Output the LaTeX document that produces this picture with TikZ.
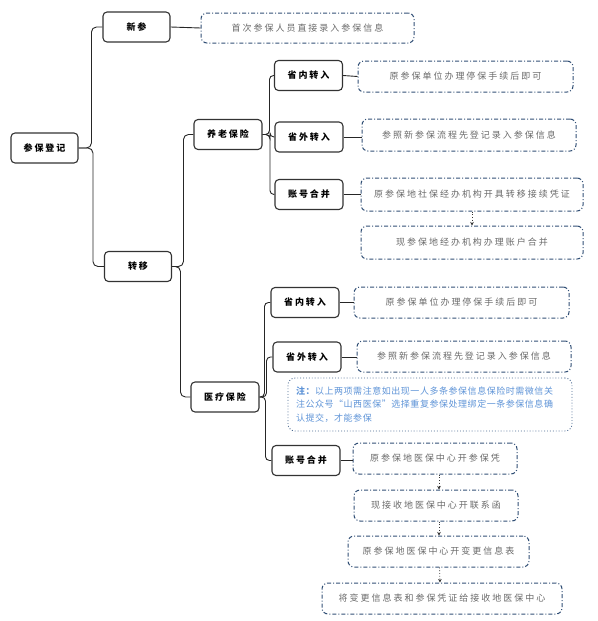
\documentclass[tikz,border=0pt]{standalone}
\usepackage{fontspec}
\usetikzlibrary{arrows.meta}
\newfontfamily\cjk{Noto Sans CJK SC}[LetterSpace=22]
\newfontfamily\cjknote{Noto Sans CJK SC}[LetterSpace=6]
\definecolor{ddblue}{RGB}{50,80,118}
\definecolor{notebd}{RGB}{75,105,145}
\definecolor{notetx}{RGB}{95,148,215}
\definecolor{ddtext}{RGB}{105,105,105}
\tikzset{
  solidbox/.style={draw=black!80, line width=1.1pt, rounded corners=4pt,
    minimum width=67pt, minimum height=30pt, inner sep=0pt,
    font=\cjk\bfseries\fontsize{9}{11}\selectfont},
  ddbox/.style={draw=ddblue, line width=1pt,
    dash pattern=on 4pt off 2pt on 1pt off 2pt, rounded corners=6pt,
    minimum height=31pt, inner sep=0pt, text=ddtext,
    font=\cjk\fontsize{9}{11}\selectfont},
  notebox/.style={draw=notebd, line width=0.9pt, dotted, rounded corners=7pt,
    inner sep=0pt, text=notetx, align=left, text width=268pt,
    font=\cjknote\fontsize{9}{13.5}\selectfont},
  conn/.style={line width=0.9pt, draw=black!85, rounded corners=5pt},
  link/.style={line width=0.9pt, draw=black!85},
  arr/.style={line width=0.8pt, draw=black!80, dotted,
    -{Stealth[length=3.5pt,width=3.5pt]}}
}
\begin{document}
\begin{tikzpicture}[x=1pt,y=-1pt]
\useasboundingbox (0,0) rectangle (597,621);
% level 1 and 2
\node[solidbox] (root) at (44.5,148) {参保登记};
\node[solidbox] (xin) at (136.5,27) {新参};
\node[solidbox] (zy) at (138,266.5) {转移};
\node[ddbox, minimum width=213pt, minimum height=30pt] (xint) at (307.5,28) {首次参保人员直接录入参保信息};
% pension
\node[solidbox, minimum width=68pt] (yl) at (228,134.5) {养老保险};
\node[solidbox, minimum width=68pt] (ylA) at (308.5,75.5) {省内转入};
\node[solidbox, minimum width=68pt] (ylB) at (309,137) {省外转入};
\node[solidbox, minimum width=68pt] (ylC) at (309,194.5) {账号合并};
\node[ddbox, minimum width=215pt] (ylAt) at (465.5,76.5) {原参保单位办理停保手续后即可};
\node[ddbox, minimum width=214pt, minimum height=32pt] (ylBt) at (469,135) {参照新参保流程先登记录入参保信息};
\node[ddbox, minimum width=222pt, minimum height=33pt] (ylCt) at (472,194.5) {原参保地社保经办机构开具转移接续凭证};
\node[ddbox, minimum width=222pt, minimum height=33pt] (ylDt) at (472,242.5) {现参保地经办机构办理账户合并};
% medical
\node[solidbox, minimum width=68pt] (yb) at (225,397) {医疗保险};
\node[solidbox, minimum width=68pt] (ybA) at (305,302.5) {省内转入};
\node[solidbox, minimum width=68pt] (ybB) at (307,357) {省外转入};
\node[solidbox, minimum width=68pt] (ybC) at (306,460.5) {账号合并};
\node[ddbox, minimum width=215pt] (ybAt) at (461.5,302.5) {原参保单位办理停保手续后即可};
\node[ddbox, minimum width=214pt] (ybBt) at (464,356.5) {参照新参保流程先登记录入参保信息};
\node[notebox, minimum width=284pt, minimum height=53pt] (note) at (430,404.5)
  {\textbf{注：}以上两项需注意如出现一人多条参保信息保险时需微信关\\注公众号“山西医保”选择重复参保处理绑定一条参保信息确\\认提交，才能参保};
\node[ddbox, minimum width=164pt] (ybCt) at (435,458.5) {原参保地医保中心开参保凭};
\node[ddbox, minimum width=164pt] (ybDt) at (436,505.5) {现接收地医保中心开联系函};
\node[ddbox, minimum width=181pt] (ybEt) at (438.5,551.5) {原参保地医保中心开变更信息表};
\node[ddbox, minimum width=240pt] (ybFt) at (442,598.5) {将变更信息表和参保凭证给接收地医保中心};
% tree connectors
\foreach \c in {xin,zy} \draw[conn] (root.east) -| ([xshift=-11pt]\c.west) -- (\c.west);
\foreach \c in {yl,yb} \draw[conn] (zy.east) -| ([xshift=-10pt]\c.west) -- (\c.west);
\foreach \c in {ylA,ylB,ylC} \draw[conn, rounded corners=4pt] (yl.east) -| ([xshift=-4.5pt]\c.west) -- (\c.west);
\foreach \c in {ybA,ybB,ybC} \draw[conn, rounded corners=4pt] (yb.east) -| ([xshift=-6pt]\c.west) -- (\c.west);
% links
\draw[link] (xin.east) -- (xint.west);
\draw[link] (ylA.east) -- (ylAt.west);
\draw[link] (ylB.east) -- (ylB.east -| ylBt.west);
\draw[link] (ylC.east) -- (ylC.east -| ylCt.west);
\draw[link] (ybA.east) -- (ybAt.west);
\draw[link] (ybB.east) -- (ybB.east -| ybBt.west);
\draw[link] (ybC.east) -- (ybC.east -| ybCt.west);
% arrows
\draw[arr] (ylCt.south) -- (ylDt.north);
\draw[arr] ([xshift=4pt]ybCt.south) -- ([xshift=3pt]ybDt.north);
\draw[arr] ([xshift=3pt]ybDt.south) -- ([xshift=0.5pt]ybEt.north);
\draw[arr] ([xshift=1pt]ybEt.south) -- ([xshift=-2pt]ybFt.north);
\end{tikzpicture}
\end{document}
